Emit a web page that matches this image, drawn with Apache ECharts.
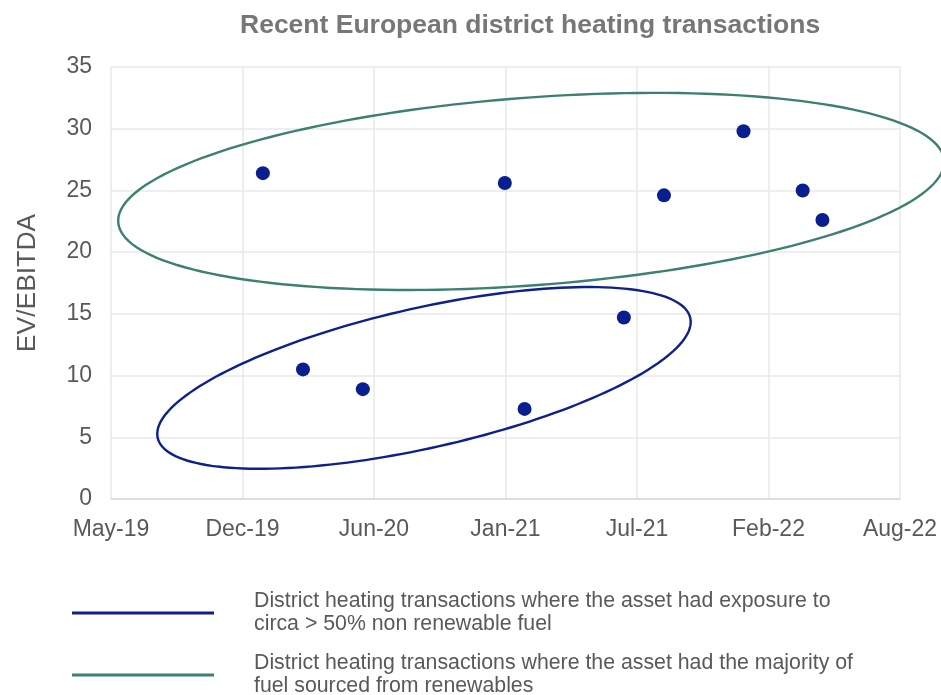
<!DOCTYPE html>
<html><head><meta charset="utf-8">
<script src="https://cdn.jsdelivr.net/npm/echarts@6/dist/echarts.min.js"></script>
<style>html,body{margin:0;padding:0;background:#fff}#c{width:941px;height:695px}</style>
</head><body><div id="c"></div>
<script>
// Base date for the x axis (day 0) and tick labels every 200 days
const baseDate = '2019-05-16';
const xTickLabels = ['May-19', 'Dec-19', 'Jun-20', 'Jan-21', 'Jul-21', 'Feb-22', 'Aug-22'];
// Transactions: date and EV/EBITDA multiple
const dealDates = ['2020-01-02', '2020-03-03', '2020-06-02', '2021-01-04', '2021-02-03',
                   '2021-07-04', '2021-09-03', '2022-01-02', '2022-04-02', '2022-05-02'];
const dealMultiples = [26.4, 10.5, 8.9, 25.6, 7.3, 14.7, 24.6, 29.8, 25.0, 22.6];
// Grouping ellipses: [centre day, centre value, major axis (days, value), minor axis (days, value)]
const seriesNames = ['District heating transactions where the asset had exposure to circa > 50% non renewable fuel',
                     'District heating transactions where the asset had the majority of fuel sourced from renewables'];
const legendLines = ['District heating transactions where the asset had exposure to\ncirca > 50% non renewable fuel',
                     'District heating transactions where the asset had the majority of\nfuel sourced from renewables'];
const nonRenewableEllipse = [476, 9.81, 405, 4.86, 23.4, -5.53];
const renewableEllipse = [639, 24.92, 628, 2.51, 10.7, -7.58];

function dayOf(s) {
  const b = Date.UTC(+baseDate.slice(0,4), +baseDate.slice(5,7)-1, +baseDate.slice(8,10));
  const d = Date.UTC(+s.slice(0,4), +s.slice(5,7)-1, +s.slice(8,10));
  return Math.round((d - b) / 86400000);
}
const points = dealDates.map((d, i) => [dayOf(d), dealMultiples[i]]);

function ellipseRender(color) {
  return function (params, api) {
    const cx = api.value(0), cy = api.value(1), ux = api.value(2), uy = api.value(3), vx = api.value(4), vy = api.value(5);
    const pts = [];
    const N = 180;
    for (let k = 0; k < N; k++) {
      const t = 2 * Math.PI * k / N;
      pts.push(api.coord([cx + ux * Math.cos(t) + vx * Math.sin(t), cy + uy * Math.cos(t) + vy * Math.sin(t)]));
    }
    return { type: 'polygon', shape: { points: pts, smooth: 0 }, style: { fill: 'none', stroke: color, lineWidth: 2.4 } };
  };
}
const blue = '#0e1f8e', green = '#3b8072', dotColor = '#0a1f8f';
const chart = echarts.init(document.getElementById('c'), null, { renderer: 'canvas' });
const font = 'Liberation Sans, Arial, sans-serif';
const legendText = { fontSize: 21.3, lineHeight: 23, color: '#595959', padding: [0, 0, 0, 35], fontFamily: font };
chart.setOption({
  animation: false,
  textStyle: { fontFamily: font },
  title: { text: 'Recent European district heating transactions', left: 240, top: 12, padding: 0,
    textStyle: { fontSize: 26.5, fontWeight: 'bold', color: '#777777', fontFamily: font } },
  grid: { left: 111, right: 41, top: 67, bottom: 196 },
  xAxis: { type: 'value', min: 0, max: 1200, interval: 200,
    axisLine: { show: true, lineStyle: { color: '#d9d9d9', width: 1.5 } },
    axisTick: { show: false },
    splitLine: { show: true, lineStyle: { color: '#e8e8e8', width: 1.5 } },
    axisLabel: { formatter: v => xTickLabels[Math.round(v / 200)], fontSize: 23, color: '#595959', margin: 19, fontFamily: font } },
  yAxis: { type: 'value', min: 0, max: 35, interval: 5,
    name: 'EV/EBITDA', nameLocation: 'middle', nameRotate: 90, nameGap: 70,
    nameTextStyle: { fontSize: 26.5, color: '#595959', fontFamily: font },
    axisLine: { show: false }, axisTick: { show: false },
    splitLine: { show: true, lineStyle: { color: '#e8e8e8', width: 1.5 } },
    axisLabel: { fontSize: 23, color: '#595959', margin: 19, fontFamily: font } },
  legend: [
    { orient: 'vertical', left: 72, top: 590, padding: 0, itemWidth: 142, itemHeight: 3, icon: 'rect',
      data: [seriesNames[0]], selectedMode: false,
      formatter: n => legendLines[seriesNames.indexOf(n)], textStyle: legendText },
    { orient: 'vertical', left: 72, top: 652, padding: 0, itemWidth: 142, itemHeight: 3, icon: 'rect',
      data: [seriesNames[1]], selectedMode: false,
      formatter: n => legendLines[seriesNames.indexOf(n)], textStyle: legendText }
  ],
  series: [
    { name: seriesNames[0], type: 'custom', renderItem: ellipseRender(blue), itemStyle: { color: blue },
      encode: { x: 0, y: 1 }, data: [nonRenewableEllipse], z: 3, silent: true },
    { name: seriesNames[1], type: 'custom', renderItem: ellipseRender(green), itemStyle: { color: green },
      encode: { x: 0, y: 1 }, data: [renewableEllipse], z: 3, silent: true },
    { name: 'Transactions', type: 'scatter', data: points, symbolSize: 14,
      itemStyle: { color: dotColor, opacity: 1 }, z: 4 }
  ]
});
</script></body></html>
